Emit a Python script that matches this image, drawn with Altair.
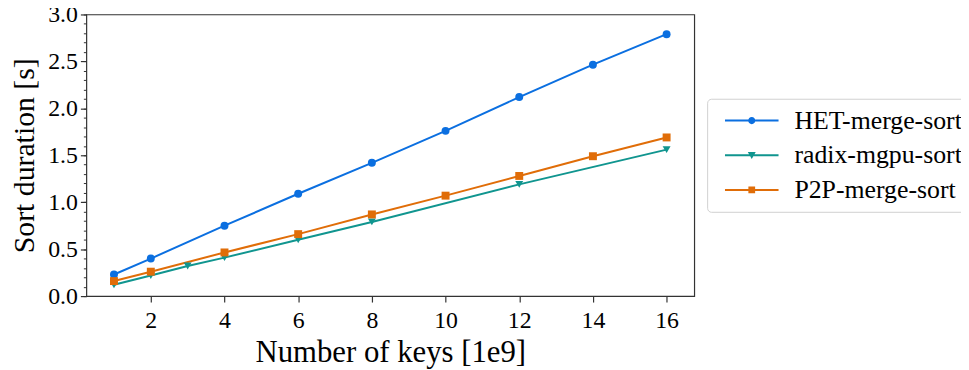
import altair as alt
import pandas as pd

series = ["HET-merge-sort", "radix-mgpu-sort", "P2P-merge-sort"]
colors = ["#0b6fe0", "#10958f", "#e06d08"]
shapes = ["circle", "triangle-down", "square"]

het_x = [1, 2, 4, 6, 8, 10, 12, 14, 16]
het_y = [0.23, 0.40, 0.75, 1.09, 1.42, 1.76, 2.12, 2.465, 2.79]
radix_x = [1, 2, 3, 4, 6, 8, 12, 16]
radix_y = [0.12, 0.22, 0.32, 0.41, 0.60, 0.79, 1.19, 1.56]
p2p_x = [1, 2, 4, 6, 8, 10, 12, 14, 16]
p2p_y = [0.16, 0.26, 0.465, 0.66, 0.87, 1.07, 1.28, 1.49, 1.69]

x_ticks = [2, 4, 6, 8, 10, 12, 14, 16]
y_major = [0.0, 0.5, 1.0, 1.5, 2.0, 2.5, 3.0]
y_minor = [round(i * 0.1, 1) for i in range(31)]

# legend symbols: line segment + marker (custom paths)
bar = "M-6.75,-0.25 L6.75,-0.25 L6.75,0.25 L-6.75,0.25 Z "
legend_shapes = [
    bar + "M0,-0.9 A0.9,0.9 0 1,1 0,0.9 A0.9,0.9 0 1,1 0,-0.9 Z",
    bar + "M-1,-0.8 L1,-0.8 L0,0.95 Z",
    bar + "M-0.85,-0.85 L0.85,-0.85 L0.85,0.85 L-0.85,0.85 Z",
]

rows = []
for name, xs, ys in [(series[0], het_x, het_y), (series[1], radix_x, radix_y), (series[2], p2p_x, p2p_y)]:
    for xv, yv in zip(xs, ys):
        rows.append({"series": name, "keys": xv, "duration": yv})
df = pd.DataFrame(rows)

FONT = "Liberation Serif"
x_scale = alt.Scale(domain=[0.25, 16.75], nice=False, zero=False)
y_scale = alt.Scale(domain=[0, 3], nice=False, zero=False)

def cscale():
    return alt.Scale(domain=series, range=colors)

x_axis = alt.Axis(values=x_ticks, title="Number of keys [1e9]", grid=False, domain=False,
                  tickSize=6, tickWidth=1.2, tickColor="#333", labelFontSize=24, labelPadding=7,
                  labelColor="black", titleFontSize=31, titleFontWeight="normal",
                  titleColor="black", titlePadding=5, labelFont=FONT, titleFont=FONT)
y_axis = alt.Axis(values=y_major, format=".1f", title="Sort duration [s]", grid=False, domain=False,
                  orient="left", tickSize=6, tickWidth=1.2, tickColor="#333", labelFontSize=24,
                  labelPadding=3, labelColor="black", titleFontSize=30, titleFontWeight="normal",
                  titleColor="black", titlePadding=8, labelFont=FONT, titleFont=FONT)
y_minor_axis = alt.Axis(values=y_minor, labels=False, title=None, grid=False, domain=False,
                        orient="left", tickSize=3, tickWidth=1, tickColor="#333")

lines = alt.Chart(df).mark_line(strokeWidth=2).encode(
    x=alt.X("keys:Q", scale=x_scale, axis=x_axis),
    y=alt.Y("duration:Q", scale=y_scale, axis=y_axis),
    color=alt.Color("series:N", scale=cscale(), legend=None),
)

minor = alt.Chart(df).mark_line(opacity=0).encode(
    x=alt.X("keys:Q", scale=x_scale, axis=x_axis),
    y=alt.Y("duration:Q", scale=y_scale, axis=y_minor_axis),
    color=alt.Color("series:N", scale=cscale(), legend=None),
)

points = alt.Chart(df).mark_point(filled=True, size=64, opacity=1).encode(
    x=alt.X("keys:Q", scale=x_scale, axis=x_axis),
    y=alt.Y("duration:Q", scale=y_scale, axis=None),
    color=alt.Color("series:N", scale=cscale(), legend=None),
    shape=alt.Shape("series:N", scale=alt.Scale(domain=series, range=shapes), legend=None),
)

leg = alt.Legend(title=None, orient="none", legendX=626, legendY=85, symbolSize=64,
                 symbolOffset=23, labelOffset=30, symbolStrokeWidth=0, labelFont=FONT,
                 labelFontSize=26, labelColor="black", rowPadding=9, padding=9,
                 strokeColor="#d0d0d0", cornerRadius=4, fillColor="white", labelLimit=400)

legend_layer = alt.Chart(df).transform_filter("false").mark_point(filled=True, opacity=1).encode(
    color=alt.Color("series:N", scale=cscale(), legend=leg),
    shape=alt.Shape("series:N", scale=alt.Scale(domain=series, range=legend_shapes), legend=leg),
)

chart = alt.layer(lines, minor, points, legend_layer).resolve_scale(
    shape="independent", color="independent"
).resolve_axis(y="independent").properties(
    width=613, height=284,
    autosize=alt.AutoSizeParams(type="none"),
    padding={"left": 79, "top": 5, "right": 269, "bottom": 73},
).configure(font=FONT).configure_view(stroke="#333", strokeWidth=1.2)

chart.save("out.html", embed_options={"renderer": "svg", "actions": False})
